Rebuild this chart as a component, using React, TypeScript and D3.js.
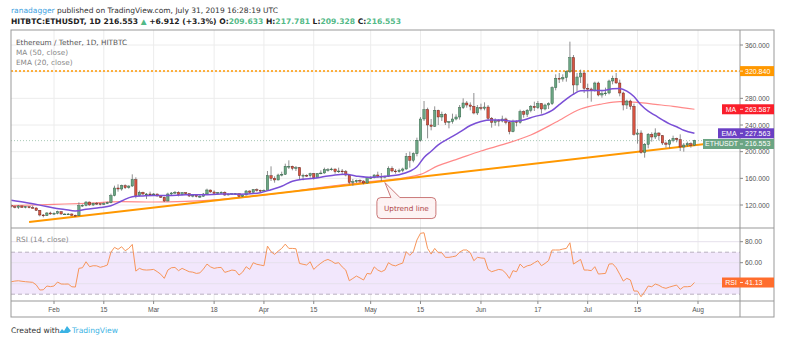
import React from 'react';
import * as d3 from 'd3';

// ---------- DATA ----------
const firstCandleDate = '2019-01-20';
// [open, high, low, close]
const janCandles: number[][] = [
  [119, 121, 116, 117.5], [117.5, 119, 115, 116.5], [116.5, 120, 114, 118.5], [118.5, 119.5, 115.5, 116.5],
  [116.5, 118.5, 115, 117.5], [117.5, 118, 115, 116], [116, 119, 115, 115.5], [115.5, 116.5, 111, 112],
  [112, 112.5, 103, 105], [105, 106.5, 101.5, 104], [104, 109.5, 103.5, 108], [108, 110, 105.5, 106.5],
];
const febCandles: number[][] = [
  [106.5, 109, 105, 107.5], [107.5, 111.5, 106, 110], [110, 110.5, 105.5, 106.5], [106.5, 107.5, 105.5, 106.5],
  [106.5, 108, 105.5, 106.5], [106.5, 107.5, 103.5, 104.5], [104.5, 105.5, 103, 104], [104, 124, 103.5, 119],
  [119, 121, 117.5, 119.5], [119.5, 125.5, 118, 124.5], [124.5, 125, 119, 120], [120, 123.5, 118.5, 122.5],
  [122.5, 124.5, 120, 122], [122, 122.5, 119.5, 121], [121, 124, 120, 122], [122, 125, 121.5, 123.5],
  [123.5, 137, 122.5, 134], [134, 149, 133, 145.5], [145.5, 151, 140, 144], [144, 150.5, 141.5, 149],
  [149, 151, 144, 146], [146, 149.5, 144.5, 148.5], [148.5, 166, 147, 158], [158, 161.5, 130, 134],
  [134, 141.5, 133, 139], [139, 140, 134.5, 136.5], [136.5, 138, 129, 136.5], [136.5, 140, 134, 135.5],
];
const marCandles: number[][] = [
  [135.5, 138, 135, 136.5], [136.5, 137, 133, 133.5], [133.5, 134.5, 130.5, 131.5], [131.5, 132.5, 124.5, 126],
  [126, 138.5, 125.5, 136.5], [136.5, 139.5, 134, 138], [138, 141, 136.5, 139], [139, 140.5, 133, 135.5],
  [135.5, 139.5, 134.5, 138.5], [138.5, 139, 135.5, 137], [137, 137.5, 132, 133.5], [133.5, 135.5, 131.5, 134.5],
  [134.5, 135, 131.5, 133], [133, 136, 130.5, 133], [133, 138, 132.5, 136.5], [136.5, 144.5, 136, 142.5],
  [142.5, 143, 138.5, 139.5], [139.5, 142, 136, 137.5], [137.5, 139.5, 136.5, 138.5], [138.5, 140.5, 137, 139],
  [139, 140.5, 133.5, 135], [135, 137, 134.5, 136.5], [136.5, 138, 135.5, 137], [137, 138, 135.5, 137],
  [137, 137.5, 131.5, 133], [133, 135.5, 132, 135], [135, 142.5, 134.5, 141], [141, 142, 137.5, 139],
  [139, 144, 138.5, 143], [143, 145, 140, 142], [142, 143, 139.5, 141],
];
const aprCandles: number[][] = [
  [141, 143.5, 140, 142], [142, 171, 141.5, 164], [164, 178, 156, 160], [160, 163, 153.5, 157.5],
  [157.5, 167, 157, 165], [165, 170, 163, 166], [166, 182, 165, 178], [178, 187, 174, 178],
  [178, 179, 172, 175], [175, 178.5, 171, 176], [176, 177, 158, 164], [164, 167, 157, 164.5],
  [164.5, 166, 162, 164], [164, 168.5, 161, 167], [167, 168, 158, 161], [161, 168, 160.5, 167],
  [167, 172, 166, 168], [168, 176, 167, 173], [173, 175.5, 170, 173], [173, 176, 171.5, 174],
  [174, 174.5, 167, 170], [170, 176, 168, 171], [171, 174, 166.5, 170], [170, 172.5, 163, 165],
  [165, 166, 151, 154], [154, 159, 149, 155], [155, 158, 153, 157], [157, 158.5, 153.5, 156],
  [156, 157, 151, 153], [153, 162.5, 152, 161],
];
const mayCandles: number[][] = [
  [161, 163, 159, 161], [161, 166, 160, 165], [165, 170, 161, 163], [163, 168, 156, 162],
  [162, 164, 160, 163], [163, 178, 162, 175], [175, 178, 169, 171], [171, 174, 167, 170],
  [170, 174.5, 168.5, 172], [172, 176, 169, 174], [174, 198, 173, 193], [193, 200, 176, 187],
  [187, 199, 184, 197], [197, 221, 193, 217], [217, 252, 215, 249], [249, 276, 246, 263],
  [263, 266, 220, 240], [240, 249, 232, 238], [238, 268, 237, 262], [262, 263, 240, 252],
  [252, 260, 246, 256], [256, 258, 240, 244], [244, 246, 235, 245], [245, 257, 242, 249],
  [249, 256, 247, 252], [252, 270, 248, 266], [266, 280, 264, 273], [273, 276, 266, 270],
  [270, 274, 262, 268], [268, 288, 256, 258], [258, 270, 255, 266],
];
const junCandles: number[][] = [
  [266, 272, 262, 265], [265, 274, 262, 267], [267, 270, 247, 250], [250, 252, 236, 244],
  [244, 250, 239, 247], [247, 249, 238, 246], [246, 254, 244, 249], [249, 251, 241, 244],
  [244, 246, 226, 230], [230, 248, 229, 245], [245, 247, 238, 244], [244, 263, 242, 260],
  [260, 262, 251, 256], [256, 264, 252, 262], [262, 270, 259, 268], [268, 275, 261, 266],
  [266, 276, 264, 272], [272, 273, 257, 264], [264, 272, 262, 270], [270, 274, 264, 272],
  [272, 298, 270, 296], [296, 316, 292, 310], [310, 318, 303, 309], [309, 316, 305, 311],
  [311, 322, 305, 320], [320, 365, 318, 341], [341, 345, 285, 300], [300, 318, 290, 312],
  [312, 323, 303, 318], [318, 320, 288, 295],
];
const julCandles: number[][] = [
  [295, 302, 280, 294], [294, 296, 275, 292], [292, 305, 290, 303], [303, 305, 283, 285],
  [285, 292, 281, 287], [287, 296, 284, 288], [288, 308, 286, 306], [306, 314, 301, 310],
  [310, 318, 302, 303], [303, 308, 283, 288], [288, 290, 262, 270], [270, 278, 264, 276],
  [276, 278, 263, 268], [268, 272, 224, 226], [226, 234, 212, 228], [228, 232, 197, 199],
  [199, 213, 191, 211], [211, 228, 205, 226], [226, 229, 215, 222], [222, 235, 219, 228],
  [228, 229, 217, 224], [224, 225, 210, 213], [213, 215, 206, 211], [211, 219, 205, 217],
  [217, 224, 214, 220], [220, 221, 214, 218], [218, 226, 201, 207], [207, 213, 200, 210],
  [210, 215, 207, 212], [212, 214, 206, 209.633], [209.633, 217.781, 209.328, 216.553],
];

// RSI(14) per day, Jan 20 .. Jul 31
const rsiJan = [41.9, 42.5, 42.8, 42.3, 41.9, 41.6, 41.3, 38.9, 34, 34.2, 37.8, 37.2];
const rsiFeb = [37.8, 41.6, 39.7, 39.6, 39.7, 37.1, 36.8, 54.6, 55.2, 60.9, 56.2, 57.1, 57, 55.6, 56.5, 57.8, 70, 74.6, 72.7, 75.2, 71.4, 73.6, 77.4, 52, 54.6, 53.3, 53, 53.2];
const rsiMar = [53.6, 51.5, 49, 45.1, 53, 55.2, 55.5, 52.4, 54.6, 53, 51.4, 51, 49.8, 50.3, 54, 58.7, 56, 54.6, 55.3, 55.5, 50.8, 51.8, 53, 52.5, 48.2, 51, 56.2, 53.6, 60, 58.5, 57.8];
const rsiApr = [57.1, 75.8, 70.5, 67.9, 71, 73.6, 77.7, 73.6, 73.6, 73.3, 59.3, 58.5, 57.8, 60.9, 53.6, 56.8, 59.5, 61.9, 63.1, 61.5, 59.3, 60, 56, 53, 42.8, 45, 47.3, 45.5, 43.5, 49.8];
const rsiMay = [49.2, 56, 53, 51.4, 53, 60, 57.8, 57, 58.5, 59.6, 70.5, 67, 70.5, 81.6, 88, 88.5, 73.6, 68.2, 73.6, 69.5, 69.5, 65.1, 65.1, 65.7, 66.4, 70, 72.1, 72.1, 69.5, 61.9, 65.1];
const rsiJun = [64.5, 64.2, 53.6, 51.4, 52.5, 53.6, 53, 50, 45.1, 52.4, 51.4, 58.7, 55.2, 57, 57.8, 60, 61.9, 57.1, 59.3, 62, 72.1, 72.1, 72.1, 73, 73.6, 79, 58.7, 60.9, 63.1, 53];
const rsiJul = [53, 52.4, 56.2, 49.2, 49.5, 49.8, 58.7, 59, 55.2, 49, 42.5, 45.1, 43.5, 33, 33, 27.6, 32.4, 37.8, 37.1, 39.7, 38.5, 36.5, 35.6, 36.8, 37.8, 38.7, 34.6, 37.1, 37.1, 37.5, 41.13];

// Moving averages: [date, value]
const maPoints: [string, number][] = [
  ['2019-01-20', 119], ['2019-02-01', 121], ['2019-02-10', 122.5], ['2019-02-20', 125], ['2019-03-01', 124.5],
  ['2019-03-10', 125.5], ['2019-03-20', 128.5], ['2019-04-01', 135], ['2019-04-10', 141], ['2019-04-20', 148.5],
  ['2019-05-01', 155], ['2019-05-10', 160.5], ['2019-05-15', 166], ['2019-05-20', 179], ['2019-05-25', 188],
  ['2019-06-01', 201], ['2019-06-08', 212], ['2019-06-15', 225], ['2019-06-22', 244], ['2019-06-29', 264],
  ['2019-07-05', 271.5], ['2019-07-10', 275], ['2019-07-15', 274], ['2019-07-20', 271], ['2019-07-25', 268],
  ['2019-07-31', 263.587],
];
const emaPoints: [string, number][] = [
  ['2019-01-20', 127], ['2019-01-24', 123.8], ['2019-01-28', 119.8], ['2019-02-01', 115.4], ['2019-02-04', 113.3],
  ['2019-02-07', 111.1], ['2019-02-10', 113.6], ['2019-02-14', 116.2], ['2019-02-17', 119], ['2019-02-20', 126],
  ['2019-02-23', 132.5], ['2019-02-26', 133.6], ['2019-03-01', 134.3], ['2019-03-05', 134.2], ['2019-03-10', 135.3],
  ['2019-03-15', 135.3], ['2019-03-20', 136.5], ['2019-03-25', 136.3], ['2019-03-31', 138.5], ['2019-04-03', 143],
  ['2019-04-06', 148.1], ['2019-04-09', 155.6], ['2019-04-12', 158.8], ['2019-04-15', 160.1], ['2019-04-18', 162.6],
  ['2019-04-21', 165.1], ['2019-04-24', 166], ['2019-04-27', 163.3], ['2019-04-30', 161.7], ['2019-05-03', 162.1],
  ['2019-05-06', 163.4], ['2019-05-09', 165.4], ['2019-05-12', 170.6], ['2019-05-14', 177.3], ['2019-05-16', 191.4],
  ['2019-05-18', 200.6], ['2019-05-20', 210.3], ['2019-05-23', 219.8], ['2019-05-26', 229.2], ['2019-05-29', 239.3],
  ['2019-06-01', 245.3], ['2019-06-04', 247.5], ['2019-06-07', 247.5], ['2019-06-10', 245.5], ['2019-06-13', 247.6],
  ['2019-06-16', 252.6], ['2019-06-19', 256.7], ['2019-06-21', 261.8], ['2019-06-23', 270.5], ['2019-06-25', 278.8],
  ['2019-06-27', 286.2], ['2019-06-29', 291.5], ['2019-07-02', 291.8], ['2019-07-05', 291.6], ['2019-07-08', 294.4],
  ['2019-07-10', 294.8], ['2019-07-12', 290.9], ['2019-07-14', 282.7], ['2019-07-16', 269.9], ['2019-07-18', 260.7],
  ['2019-07-20', 254.3], ['2019-07-22', 247.8], ['2019-07-24', 241.6], ['2019-07-26', 237.4], ['2019-07-28', 232.1],
  ['2019-07-31', 227.563],
];
const trendLine: [string, number][] = [['2019-01-25', 94.5], ['2019-08-13', 217.5]];
const resistanceLevel = 320.84;
const lastPrice = 216.553;
const lastMA = 263.587;
const lastEMA = 227.563;
const lastRSI = 41.13;
const annotationAnchor: [string, number] = ['2019-05-05', 153.7];
const annotationText = 'Uptrend line';

const dateTicks = ['2019-02-01', '2019-02-15', '2019-03-01', '2019-03-18', '2019-04-01', '2019-04-15', '2019-05-01', '2019-05-15', '2019-06-01', '2019-06-17', '2019-07-01', '2019-07-15', '2019-08-01'];
const dateTickLabels = ['Feb', '15', 'Mar', '18', 'Apr', '15', 'May', '15', 'Jun', '17', 'Jul', '15', 'Aug'];
const priceTicks = [120, 160, 200, 240, 280, 320, 360];
const rsiGridTicks = [40, 60, 80];
const rsiLabelTicks = [60, 80];
const rsiBand = [30, 70];

// ---------- LAYOUT ----------
const L = 11, R = 740, RA = 774, TOP = 30, MAIN_B = 228, RSI_B = 301, BOT = 317;
const FONT = '"Liberation Sans", Arial, sans-serif';
const FONT2 = '"DejaVu Sans", Verdana, sans-serif';

const parse = (s: string) => new Date(s + 'T00:00:00Z');

export default function App() {
  const x = d3.scaleUtc().domain([parse('2019-02-01'), parse('2019-08-01')]).range([54, 698]);
  const y = d3.scaleLinear().domain([120, 360]).range([205, 45]);
  const yr = d3.scaleLinear().domain([60, 80]).range([262.7, 241.7]);

  const start = parse(firstCandleDate);
  const rows = [...janCandles, ...febCandles, ...marCandles, ...aprCandles, ...mayCandles, ...junCandles, ...julCandles];
  const candles = rows.map((r, i) => ({ date: d3.utcDay.offset(start, i), o: r[0], h: r[1], l: r[2], c: r[3] }));
  const rsi = [...rsiJan, ...rsiFeb, ...rsiMar, ...rsiApr, ...rsiMay, ...rsiJun, ...rsiJul].map((v, i) => ({ date: d3.utcDay.offset(start, i), v }));

  const curve = d3.line<[string, number]>().x(d => x(parse(d[0]))).y(d => y(d[1])).curve(d3.curveMonotoneX);
  const rsiLine = d3.line<{ date: Date; v: number }>().x(d => x(d.date)).y(d => yr(d.v));
  const trendPath = d3.line<[string, number]>().x(d => x(parse(d[0]))).y(d => y(d[1]))(trendLine) || '';

  const bw = 2.4;
  const up = '#6ba583', dn = '#d75442';

  const ax = x(parse(annotationAnchor[0])), ay = y(annotationAnchor[1]);
  const bx = ax - 8, by = ay + 15, bwid = 59, bh = 21;

  const valueLabel = (yy: number, text: string, bg: string, tag?: string, tagX?: number) => (
    <g>
      {tag && <rect x={tagX} y={yy - 5} width={R - (tagX as number)} height={10} fill={bg} />}
      {tag && <text x={(tagX as number) + (R - (tagX as number)) / 2} y={yy + 2.5} fontSize={7} fill="#fff" textAnchor="middle" fontFamily={FONT}>{tag}</text>}
      <rect x={R} y={yy - 5} width={RA - R} height={10} fill={bg} />
      <line x1={R} x2={R + 3} y1={yy} y2={yy} stroke="#fff" strokeWidth={0.8} />
      <text x={R + 5} y={yy + 2.5} fontSize={7} fill="#fff" fontFamily={FONT}>{text}</text>
    </g>
  );

  return (
    <svg width={800} height={353} style={{ position: 'absolute', left: 0, top: 0, background: '#fff' }} fontFamily={FONT}>
      <defs>
        <clipPath id="mainClip"><rect x={L} y={TOP} width={R - L} height={MAIN_B - TOP} /></clipPath>
        <clipPath id="rsiClip"><rect x={L} y={MAIN_B} width={R - L} height={RSI_B - MAIN_B} /></clipPath>
      </defs>

      {/* header */}
      <text x={11} y={13} fontSize={7.5} fill="#333" fontFamily={FONT2}>
        <tspan fill="#3ba0e0">ranadagger</tspan>
        <tspan> published on TradingView.com, July 31, 2019 16:28:19 UTC</tspan>
      </text>
      <text x={11} y={23.5} fontSize={7.6} fontWeight="bold" fill="#222" fontFamily={FONT2}>
        <tspan>HITBTC:ETHUSDT, 1D </tspan>
        <tspan>216.553 </tspan>
        <tspan fill="#53b987">▲</tspan>
        <tspan> +6.912 (+3.3%) O:</tspan><tspan fill="#53b987">209.633</tspan>
        <tspan> H:</tspan><tspan fill="#53b987">217.781</tspan>
        <tspan> L:</tspan><tspan fill="#53b987">209.328</tspan>
        <tspan> C:</tspan><tspan fill="#53b987">216.553</tspan>
      </text>

      {/* grid */}
      {dateTicks.map(t => (
        <line key={t} x1={x(parse(t))} x2={x(parse(t))} y1={TOP} y2={RSI_B} stroke="#ececec" strokeWidth={1} />
      ))}
      {priceTicks.map(t => (
        <line key={t} x1={L} x2={R} y1={y(t)} y2={y(t)} stroke="#ececec" strokeWidth={1} />
      ))}

      {/* RSI band */}
      <rect x={L} y={yr(rsiBand[1])} width={R - L} height={yr(rsiBand[0]) - yr(rsiBand[1])} fill="#f2e7fc" />
      {rsiGridTicks.map(t => (
        <line key={t} x1={L} x2={R} y1={yr(t)} y2={yr(t)} stroke="#e6e0ec" strokeWidth={1} />
      ))}
      {rsiBand.map(t => (
        <line key={t} x1={L} x2={R} y1={yr(t)} y2={yr(t)} stroke="#b9b0c0" strokeWidth={1} strokeDasharray="4 3" />
      ))}

      {/* main pane content */}
      <g clipPath="url(#mainClip)">
        <line x1={L} x2={R} y1={y(resistanceLevel)} y2={y(resistanceLevel)} stroke="#ff9800" strokeWidth={1.5} strokeDasharray="2 2" />
        <line x1={L} x2={R} y1={y(lastPrice)} y2={y(lastPrice)} stroke="#6ba583" strokeOpacity={0.6} strokeWidth={1} strokeDasharray="1 2" />
        <path d={curve(maPoints) || ''} fill="none" stroke="#ff6b6b" strokeOpacity={0.8} strokeWidth={1.2} />
        <path d={trendPath} fill="none" stroke="#ff9800" strokeWidth={2} />
        {candles.map((d, i) => {
          const cx = x(d.date);
          const isUp = d.c >= d.o;
          const top = y(Math.max(d.o, d.c)), bot = y(Math.min(d.o, d.c));
          return (
            <g key={i}>
              <line x1={cx} x2={cx} y1={y(d.h)} y2={y(d.l)} stroke="#737375" strokeWidth={0.8} />
              <rect x={cx - bw / 2} y={top} width={bw} height={Math.max(0.8, bot - top)} fill={isUp ? up : dn} stroke={isUp ? '#225437' : '#5b1a13'} strokeWidth={0.4} />
            </g>
          );
        })}
        <path d={curve(emaPoints) || ''} fill="none" stroke="#7a4fd6" strokeWidth={1.5} />
      </g>

      {/* RSI line */}
      <g clipPath="url(#rsiClip)">
        <path d={rsiLine(rsi) || ''} fill="none" stroke="#f7955a" strokeWidth={1} />
      </g>

      {/* annotation */}
      <g>
        <rect x={bx} y={by} width={bwid} height={bh} rx={4} fill="#fdf3f3" stroke="#c46a6a" strokeWidth={0.9} />
        <path d={`M${ax + 6},${by} L${ax},${ay} L${ax + 15},${by}`} fill="#fdf3f3" stroke="#c46a6a" strokeWidth={0.9} />
        <line x1={ax + 6.5} x2={ax + 14.5} y1={by} y2={by} stroke="#fdf3f3" strokeWidth={1.2} />
        <text x={bx + bwid / 2} y={by + bh / 2 + 2.6} fontSize={7.3} fill="#b04a4a" textAnchor="middle" fontFamily={FONT2}>{annotationText}</text>
      </g>

      {/* frame */}
      <rect x={L} y={TOP} width={RA - L} height={BOT - TOP} fill="none" stroke="#999" strokeWidth={1} />
      <line x1={R} x2={R} y1={TOP} y2={BOT} stroke="#999" strokeWidth={1} />
      <line x1={L} x2={RA} y1={MAIN_B} y2={MAIN_B} stroke="#999" strokeWidth={1} />
      <line x1={L} x2={RA} y1={RSI_B} y2={RSI_B} stroke="#999" strokeWidth={1} />

      {/* price axis labels */}
      {priceTicks.map(t => (
        <g key={t}>
          <line x1={R} x2={R + 3} y1={y(t)} y2={y(t)} stroke="#888" />
          <text x={R + 5} y={y(t) + 2.5} fontSize={6.8} fill="#555">{t.toFixed(3)}</text>
        </g>
      ))}
      {rsiLabelTicks.map(t => (
        <g key={t}>
          <line x1={R} x2={R + 3} y1={yr(t)} y2={yr(t)} stroke="#888" />
          <text x={R + 5} y={yr(t) + 2.5} fontSize={6.8} fill="#555">{t.toFixed(2)}</text>
        </g>
      ))}

      {/* date axis labels */}
      {dateTicks.map((t, i) => (
        <g key={t}>
          <line x1={x(parse(t))} x2={x(parse(t))} y1={RSI_B} y2={RSI_B + 3} stroke="#888" />
          <text x={x(parse(t))} y={312} fontSize={6.6} fill="#555" textAnchor="middle">{dateTickLabels[i]}</text>
        </g>
      ))}

      {/* value labels */}
      {valueLabel(y(resistanceLevel), resistanceLevel.toFixed(3), '#ff9800')}
      {valueLabel(y(lastMA), lastMA.toFixed(3), '#fa1e2a', 'MA', 722)}
      {valueLabel(y(lastEMA), lastEMA.toFixed(3), '#6a3fc4', 'EMA', 718)}
      {valueLabel(y(lastEMA) + 10.7, lastPrice.toFixed(3), '#6ba583', 'ETHUSDT', 703)}
      {valueLabel(yr(lastRSI), lastRSI.toFixed(2), '#ff6d2d', 'RSI', 722)}

      {/* legends */}
      <text x={16} y={44.5} fontSize={7.3} fill="#555" fontFamily={FONT2}>Ethereum / Tether, 1D, HITBTC</text>
      <text x={16} y={54.5} fontSize={7.3} fill="#888" fontFamily={FONT2}>MA (50, close)</text>
      <text x={16} y={64.5} fontSize={7.3} fill="#888" fontFamily={FONT2}>EMA (20, close)</text>
      <text x={16} y={241.5} fontSize={7.3} fill="#888" fontFamily={FONT2}>RSI (14, close)</text>

      {/* footer */}
      <text x={11} y={333} fontSize={7.6} fill="#333" fontFamily={FONT2}>Created with</text>
      <g transform="translate(59,326)">
        <path d="M0,7 L3,3 L5,5 L8,0 L12,5 L9,7 Z" fill="#3bb3e4" />
      </g>
      <text x={72} y={333} fontSize={7.6} fill="#3bb3e4" fontFamily={FONT2}>TradingView</text>
    </svg>
  );
}
